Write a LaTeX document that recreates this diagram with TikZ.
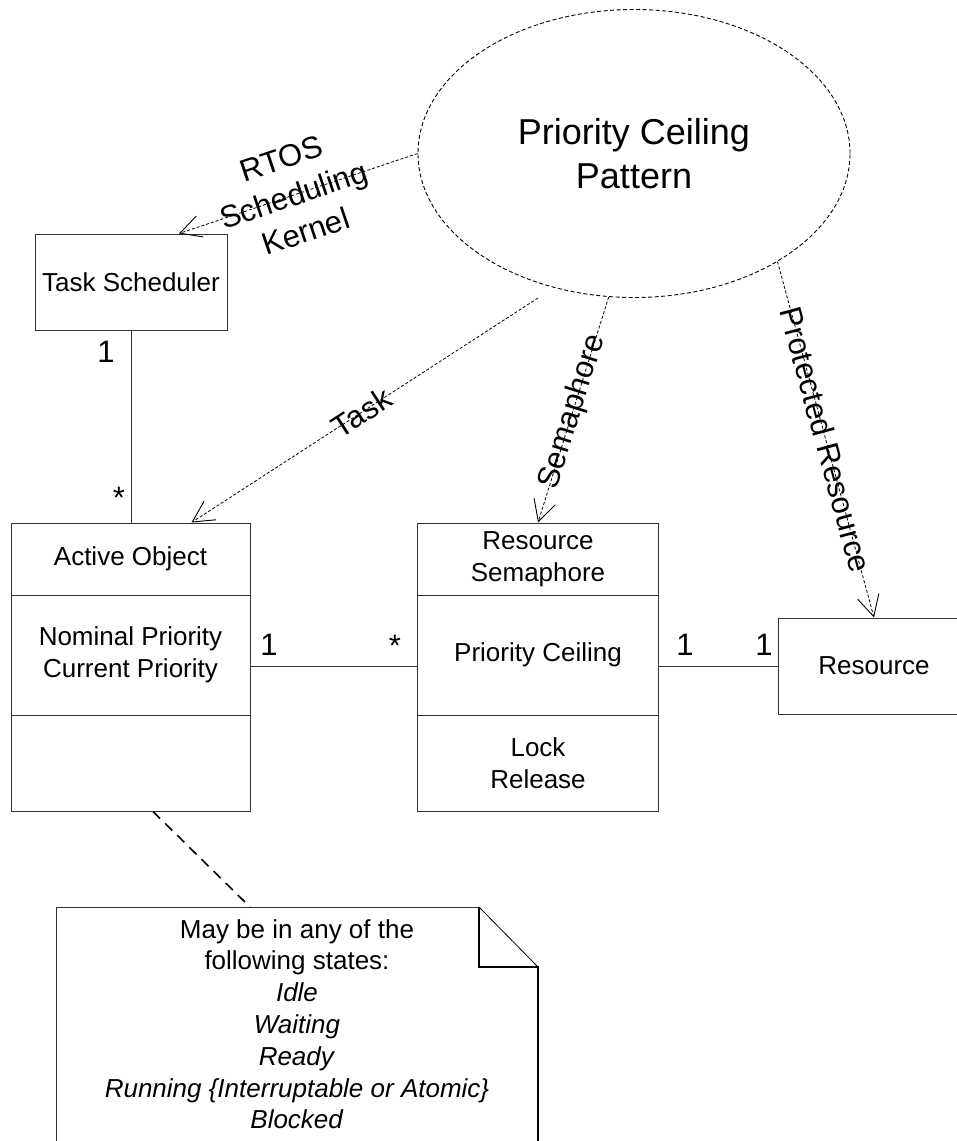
\documentclass[tikz,border=0pt]{standalone}
\usepackage{fontspec}
\setmainfont{Liberation Sans}
\usetikzlibrary{arrows.meta,shapes.geometric,calc}

\begin{document}
\begin{tikzpicture}[x=1pt,y=-1pt,
  boxtext/.style={font=\fontsize{26}{32}\selectfont},
  umlbox/.style={draw=black!80, line width=1pt, inner sep=0pt, align=center, boxtext},
  lbl/.style={font=\fontsize{31}{38.5}\selectfont, align=center, inner sep=0pt, sloped},
  mult/.style={font=\fontsize{31}{36}\selectfont, inner sep=0pt, anchor=base},
  depend/.style={draw=black, line width=0.8pt, dash pattern=on 3pt off 2pt,
    -{Straight Barb[length=21pt,width=22pt,line width=0.9pt]}},
  assoc/.style={draw=black!80, line width=1pt},
  notelink/.style={draw=black, line width=1.6pt, dash pattern=on 10pt off 7pt},
]
\clip (0,0) rectangle (957,1141);

% collaboration (pattern) ellipse
\node[draw, ellipse, dash pattern=on 4pt off 2.5pt, line width=0.9pt,
      minimum width=432pt, minimum height=288pt, inner sep=0pt,
      font=\fontsize{36}{44}\selectfont, align=center] (pat) at (634,153.5)
      {Priority Ceiling\\Pattern};

% classes
\node[umlbox, minimum width=192pt, minimum height=96pt] (ts) at (131,282) {Task Scheduler};

\node[umlbox, minimum width=239pt, minimum height=72pt]  (ao1) at (130.5,559) {Active Object};
\node[umlbox, minimum width=239pt, minimum height=120pt] (ao2) at (130.5,655) {Nominal Priority\\Current Priority};
\node[umlbox, minimum width=239pt, minimum height=96pt]  (ao3) at (130.5,763) {};

\node[umlbox, minimum width=241pt, minimum height=72pt]  (rs1) at (538,559) {Resource\\Semaphore};
\node[umlbox, minimum width=241pt, minimum height=120pt] (rs2) at (538,655) {Priority Ceiling};
\node[umlbox, minimum width=241pt, minimum height=96pt]  (rs3) at (538,763) {Lock\\Release};

\node[umlbox, minimum width=192pt, minimum height=96pt] (res) at (874,666) {Resource};

% role bindings from the pattern
\coordinate (taskfrom) at (538,298);
\draw[depend] (pat.west) -- ([xshift=48pt]ts.north)
  node[lbl, pos=0.52] {RTOS\\Scheduling\\Kernel};
\draw[depend] (taskfrom) -- ([xshift=61pt]ao1.north)
  node[lbl, pos=0.51] {Task};
\draw[depend] (pat.260.4) -- (rs1.north)
  node[lbl, pos=0.51] {Semaphore};
\draw[depend] (pat.-37.5) -- (res.north)
  node[lbl, pos=0.5] {Protected Resource};

% associations
\draw[assoc] (ts.south) -- (ts.south |- ao1.north);
\draw[assoc] (ao2.east |- res.west) -- (rs2.west |- res.west);
\draw[assoc] (rs2.east |- res.west) -- (res.west);

% multiplicities
\node[mult] (m1) at (106,362) {1};
\node[mult] (m2) at (119,508) {*};
\node[mult] (m3) at (269,655) {1};
\node[mult] (m4) at (395,656) {*};
\node[mult] (m5) at (685,655) {1};
\node[mult] (m6) at (764,655) {1};

% note with folded corner
\coordinate (nTL) at (56,907);
\coordinate (nF1) at (479,907);
\coordinate (nF2) at (538,967);
\coordinate (nFc) at (479,967);
\coordinate (nBR) at (538,1160);
\coordinate (nBL) at (56,1160);
\draw[black!80, line width=1pt] (nBL) -- (nTL) -- (nF1);
\draw[black, line width=0.8pt] (nF1) -- (nF2);
\draw[black, line width=1.8pt] (nF1) -- (nFc) -- (nF2) -- (nBR);

\node[font=\fontsize{26}{31.8}\selectfont, align=center, anchor=north, inner sep=0pt]
  (notetext) at (297,919)
  {May be in any of the\\following states:\\\textit{Idle}\\\textit{Waiting}\\\textit{Ready}\\
   \textit{Running \{Interruptable or Atomic\}}\\\textit{Blocked}};

\draw[notelink] ([xshift=22.5pt]ao3.south) -- (250,907);
\end{tikzpicture}
\end{document}
